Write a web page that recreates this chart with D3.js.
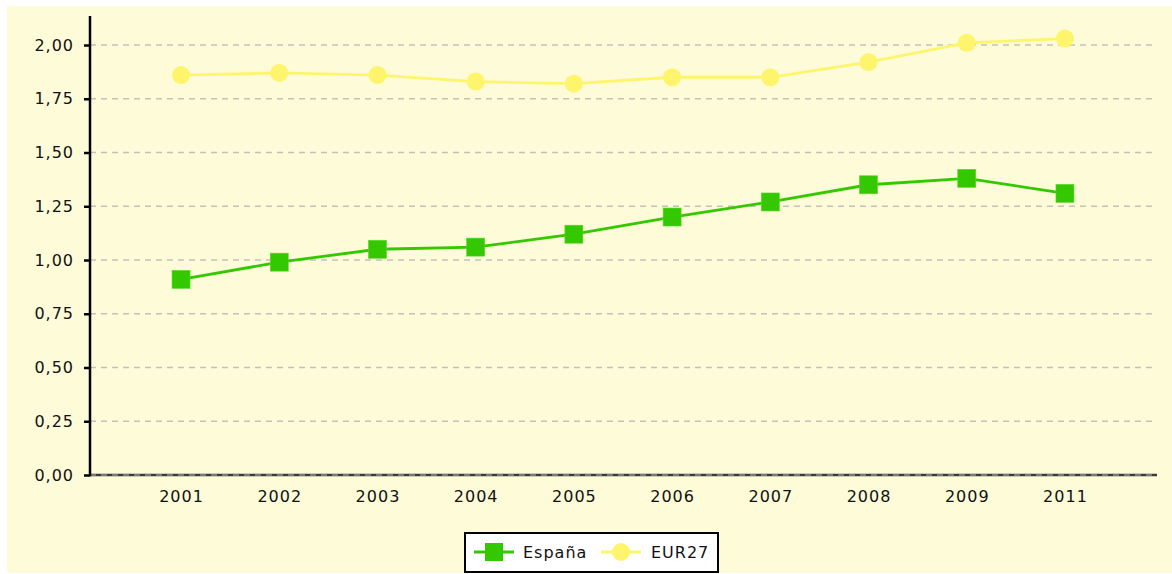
<!DOCTYPE html>
<html>
<head>
<meta charset="utf-8">
<script src="https://cdn.jsdelivr.net/npm/d3@7"></script>
<style>
  html, body { margin: 0; padding: 0; background: #ffffff; }
  svg { display: block; }
  text { font-family: "DejaVu Sans", sans-serif; fill: #111; letter-spacing: 1px; }
</style>
</head>
<body>
<svg id="chart" width="1172" height="574"></svg>
<script>
// Years shown on the category axis (2010 has no observation)
const years = ["2001", "2002", "2003", "2004", "2005", "2006", "2007", "2008", "2009", "2011"];
// Series values
const espana = [0.91, 0.99, 1.05, 1.06, 1.12, 1.20, 1.27, 1.35, 1.38, 1.31];
const eur27  = [1.86, 1.87, 1.86, 1.83, 1.82, 1.85, 1.85, 1.92, 2.01, 2.03];
// Value axis ticks
const yTicks = [0, 0.25, 0.5, 0.75, 1.0, 1.25, 1.5, 1.75, 2.0];
const seriesNames = ["España", "EUR27"];

const svg = d3.select("#chart");
const W = 1172, H = 574;
const FS = 16;

// Panel background
svg.append("rect").attr("x", 7).attr("y", 6).attr("width", W - 7).attr("height", 567)
  .attr("fill", "#fefbd8");

const plot = { left: 90, right: 1156, top: 16, bottom: 475 };

const x = d3.scalePoint().domain(years).range([plot.left, plot.right]).padding(0.927);
const y = d3.scaleLinear().domain([0, 2.135]).range([plot.bottom, plot.top]);

const fmt = v => d3.format(".2f")(v).replace(".", ",");

// Dashed horizontal gridlines
svg.append("g").selectAll("line").data(yTicks).join("line")
  .attr("x1", plot.left).attr("x2", 1152)
  .attr("y1", d => y(d)).attr("y2", d => y(d))
  .attr("stroke", "#c2c2ba").attr("stroke-width", 1.3)
  .attr("stroke-dasharray", "6,5");

// X axis
const xAxis = svg.append("g").attr("transform", `translate(0,${plot.bottom})`)
  .call(d3.axisBottom(x).tickSize(0).tickPadding(16));
xAxis.select(".domain").remove();
xAxis.selectAll("text").attr("font-size", FS).style("font-family", "DejaVu Sans, sans-serif").attr("fill", "#111");
svg.append("line").attr("x1", plot.left).attr("x2", plot.right + 1)
  .attr("y1", plot.bottom).attr("y2", plot.bottom)
  .attr("stroke", "#3a3a3a").attr("stroke-width", 2.5);
svg.append("line").attr("x1", plot.left).attr("x2", plot.right)
  .attr("y1", plot.bottom).attr("y2", plot.bottom)
  .attr("stroke", "#b8b8b0").attr("stroke-width", 1)
  .attr("stroke-dasharray", "6,5");

// Y axis
const yAxis = svg.append("g").attr("transform", `translate(${plot.left},0)`)
  .call(d3.axisLeft(y).tickValues(yTicks).tickFormat(fmt).tickSize(6).tickPadding(10));
yAxis.select(".domain").remove();
yAxis.selectAll(".tick line").attr("stroke", "#000").attr("stroke-width", 2.5);
yAxis.selectAll("text").attr("font-size", FS).style("font-family", "DejaVu Sans, sans-serif").attr("fill", "#111");
svg.append("line").attr("x1", plot.left).attr("x2", plot.left)
  .attr("y1", plot.top).attr("y2", plot.bottom + 1.2)
  .attr("stroke", "#000").attr("stroke-width", 2.5);

const line = d3.line().x((d, i) => x(years[i])).y(d => y(d));

const green = "#33c800", yellow = "#fff56c";

// EUR27 series
svg.append("path").datum(eur27).attr("d", line)
  .attr("fill", "none").attr("stroke", yellow).attr("stroke-width", 2.8);
svg.append("g").selectAll("circle").data(eur27).join("circle")
  .attr("cx", (d, i) => x(years[i])).attr("cy", d => y(d)).attr("r", 9)
  .attr("fill", yellow);

// España series
svg.append("path").datum(espana).attr("d", line)
  .attr("fill", "none").attr("stroke", green).attr("stroke-width", 2.8);
svg.append("g").selectAll("rect").data(espana).join("rect")
  .attr("x", (d, i) => x(years[i]) - 9).attr("y", d => y(d) - 9)
  .attr("width", 18).attr("height", 18)
  .attr("fill", green).attr("stroke", "#5bd830").attr("stroke-width", 0.6);

// Legend
const lg = svg.append("g");
lg.append("rect").attr("x", 465).attr("y", 533).attr("width", 253).attr("height", 39)
  .attr("fill", "#ffffff").attr("stroke", "#000").attr("stroke-width", 2);
const legendItems = [
  { name: seriesNames[0], color: green, shape: "square", x0: 474, tx: 523 },
  { name: seriesNames[1], color: yellow, shape: "circle", x0: 601, tx: 651 }
];
legendItems.forEach(it => {
  const cy = 552;
  lg.append("line").attr("x1", it.x0).attr("x2", it.x0 + 40)
    .attr("y1", cy).attr("y2", cy).attr("stroke", it.color).attr("stroke-width", 2.8);
  if (it.shape === "square") {
    lg.append("rect").attr("x", it.x0 + 11).attr("y", cy - 9).attr("width", 18).attr("height", 18)
      .attr("fill", it.color);
  } else {
    lg.append("circle").attr("cx", it.x0 + 20).attr("cy", cy).attr("r", 9).attr("fill", it.color);
  }
  lg.append("text").attr("x", it.tx).attr("y", cy + 6).attr("font-size", FS).text(it.name);
});
</script>
</body>
</html>
